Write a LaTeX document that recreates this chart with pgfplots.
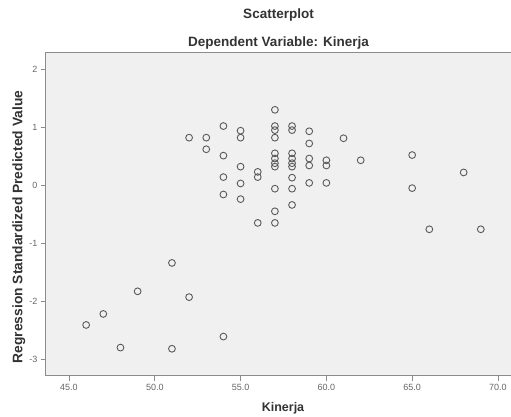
\documentclass[border=0pt]{standalone}
\usepackage{fontspec}
\setmainfont{Liberation Sans}
\usepackage{pgfplots}
\pgfplotsset{compat=1.18}

\definecolor{plotbg}{HTML}{F0F0F0}
\definecolor{framegray}{HTML}{8C8C8C}
\definecolor{markgray}{HTML}{5A5A5A}

\begin{document}
\begin{tikzpicture}
\path[use as bounding box] (-46pt,-41pt) rectangle (465pt,376pt);
\begin{axis}[
    scale only axis,
    width=465pt,
    height=323pt,
    at={(0pt,0pt)},
    anchor=south west,
    xmin=43.66, xmax=70.76,
    ymin=-3.29, ymax=2.28,
    xtick={45,50,55,60,65,70},
    ytick={-3,-2,-1,0,1,2},
    xtick pos=bottom,
    ytick pos=left,
    tick align=outside,
    major tick length=5pt,
    tick style={framegray, line width=0.7pt},
    axis line style={framegray, line width=1pt},
    axis background/.style={fill=plotbg},
    ticklabel style={font=\fontsize{9}{10}\selectfont, text=black!60},
    /pgf/number format/assume math mode=true,
    xticklabel style={/pgf/number format/.cd, fixed, fixed zerofill, precision=1},
    clip=false,
]
\addplot[only marks, mark=o, mark size=3.4pt,
    mark options={draw=markgray, line width=0.9pt}] coordinates {
(52,0.82) (53,0.82) (53,0.62)
(54,1.02) (54,0.51) (54,0.14) (54,-0.16)
(55,0.94) (55,0.82) (55,0.32) (55,0.03) (55,-0.24)
(56,0.23) (56,0.14) (56,-0.65)
(57,1.30) (57,1.02) (57,0.95) (57,0.82) (57,0.55) (57,0.46) (57,0.38) (57,0.32) (57,-0.06) (57,-0.45) (57,-0.65)
(58,1.02) (58,0.95) (58,0.55) (58,0.46) (58,0.38) (58,0.32) (58,0.13) (58,-0.06) (58,-0.34)
(59,0.93) (59,0.72) (59,0.46) (59,0.34) (59,0.04)
(60,0.43) (60,0.34) (60,0.04)
(61,0.81) (62,0.43)
(65,0.52) (65,-0.05) (66,-0.76) (68,0.22) (69,-0.76)
(51,-1.34) (49,-1.83) (52,-1.93) (47,-2.22) (46,-2.41)
(48,-2.80) (51,-2.82) (54,-2.61)
};
\end{axis}
% titles and axis labels
\begin{scope}[every node/.style={font=\bfseries\fontsize{13.5}{15}\selectfont, text=black!80, anchor=base, inner sep=0pt}]
\node at (232.5pt,357pt) {Scatterplot};
\node at (232.5pt,329pt) {Dependent Variable: Kinerja};
\node[font=\bfseries\fontsize{12.5}{14}\selectfont] at (237pt,-36pt) {Kinerja};
\node[rotate=90, font=\bfseries\fontsize{13.8}{15}\selectfont] at (-23.5pt,149pt) {Regression Standardized Predicted Value};
\end{scope}
\end{tikzpicture}
\end{document}
